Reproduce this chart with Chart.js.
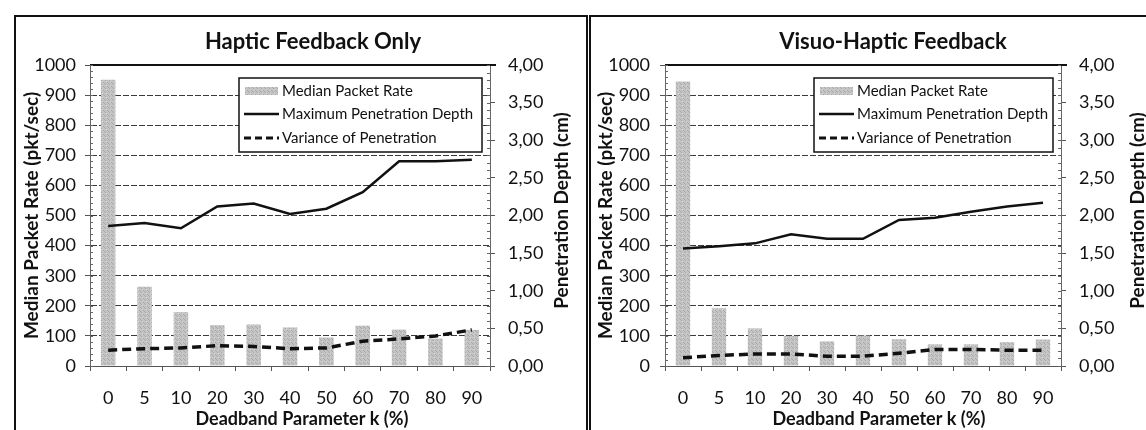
<!DOCTYPE html>
<html>
<head>
<meta charset="utf-8">
<script src="https://cdn.jsdelivr.net/npm/chart.js@4.4.0/dist/chart.umd.min.js"></script>
<style>
    html, body { margin: 0; padding: 0; background: #fff; width: 1146px; height: 430px; overflow: hidden; }
    .panel { position: absolute; top: 15px; height: 430px; border: 2px solid #111; border-bottom: none; box-sizing: border-box; }
    #p1 { left: 14px; width: 574px; }
    #p2 { left: 589px; width: 600px; border-right: none; }
    canvas { position: absolute; top: 0; }
    #c1 { left: 0; }
    #c2 { left: 588px; }
</style>
</head>
<body>
<div class="panel" id="p1"></div>
<div class="panel" id="p2"></div>
<canvas id="c1" width="588" height="430"></canvas>
<canvas id="c2" width="562" height="430"></canvas>
<script>
// deadband parameter k (%)
var categories = ['0', '5', '10', '20', '30', '40', '50', '60', '70', '80', '90'];

// Haptic Feedback Only
var hapticRate = [951, 263, 179, 136, 138, 128, 95, 134, 121, 91, 120];
var hapticDepth = [1.86, 1.90, 1.83, 2.12, 2.16, 2.02, 2.09, 2.31, 2.72, 2.72, 2.74];
var hapticVariance = [0.21, 0.23, 0.24, 0.27, 0.26, 0.23, 0.24, 0.33, 0.36, 0.40, 0.48];

// Visuo-Haptic Feedback
var visuoRate = [945, 192, 125, 100, 82, 101, 89, 72, 72, 79, 88];
var visuoDepth = [1.56, 1.59, 1.63, 1.75, 1.69, 1.69, 1.94, 1.97, 2.05, 2.12, 2.17];
var visuoVariance = [0.11, 0.14, 0.16, 0.16, 0.13, 0.13, 0.17, 0.22, 0.22, 0.21, 0.21];

var rateMax = 1000, rateStep = 100;
var depthMax = 4, depthStep = 0.5;

var legendLabels = ['Median Packet Rate', 'Maximum Penetration Depth', 'Variance of Penetration'];

var FONT = 'Lato, "Open Sans", sans-serif';

// speckled grey like the scanned bars
function barPattern() {
    var c = document.createElement('canvas');
    c.width = 4; c.height = 4;
    var g = c.getContext('2d');
    g.fillStyle = '#c4c4c4';
    g.fillRect(0, 0, 4, 4);
    g.fillStyle = '#a9a9a9';
    g.fillRect(1, 0, 1, 1);
    g.fillRect(3, 2, 1, 1);
    g.fillRect(0, 3, 1, 1);
    g.fillStyle = '#d6d6d6';
    g.fillRect(2, 1, 1, 1);
    return g.createPattern(c, 'repeat');
}

var decorPlugin = {
    id: 'decor',
    afterDraw: function (chart, args, opts) {
        var ctx = chart.ctx;
        var a = chart.chartArea;
        var y = chart.scales.y, y1 = chart.scales.y1;
        ctx.save();

        // solid top frame line
        ctx.strokeStyle = '#111';
        ctx.lineWidth = 2;
        ctx.beginPath();
        ctx.moveTo(a.left, a.top);
        ctx.lineTo(a.right + 6, a.top);
        ctx.stroke();

        // minor ticks on both value axes
        ctx.strokeStyle = '#666';
        ctx.lineWidth = 1;
        ctx.beginPath();
        for (var v = 0; v <= rateMax; v += 20) {
            var py = Math.round(y.getPixelForValue(v)) + 0.5;
            ctx.moveTo(a.left, py);
            ctx.lineTo(a.left + 3, py);
        }
        for (var d = 0; d <= depthMax + 0.001; d += 0.1) {
            var qy = Math.round(y1.getPixelForValue(d)) + 0.5;
            ctx.moveTo(a.right, qy);
            ctx.lineTo(a.right - 3, qy);
        }
        ctx.stroke();

        // title
        ctx.fillStyle = '#111';
        ctx.font = 'bold 22px ' + FONT;
        ctx.textAlign = 'center';
        ctx.textBaseline = 'middle';
        ctx.fillText(opts.title, opts.titleX, 42);

        // x axis title (sits a bit right of the plot centre in the original)
        ctx.font = 'bold 18px ' + FONT;
        ctx.fillText('Deadband Parameter k (%)', opts.xTitleX, 419);

        // right axis title, reads bottom to top like the left one
        ctx.save();
        ctx.translate(opts.y1TitleX, (a.top + a.bottom) / 2 - 5);
        ctx.rotate(-Math.PI / 2);
        ctx.font = 'bold 19px ' + FONT;
        ctx.fillText('Penetration Depth (cm)', 0, 0);
        ctx.restore();

        // legend box
        var lx = opts.legendX, ly = 78, lw = opts.legendW, lh = 74;
        ctx.fillStyle = '#fff';
        ctx.fillRect(lx, ly, lw, lh);
        ctx.strokeStyle = '#111';
        ctx.lineWidth = 1.5;
        ctx.strokeRect(lx, ly, lw, lh);

        var rows = [ly + 13, ly + 36, ly + 60];
        var sx = lx + 5, sw = 35;
        ctx.fillStyle = chart.data.datasets[2].backgroundColor;
        ctx.fillRect(sx + 1, rows[0] - 4, sw - 2, 8);
        ctx.strokeStyle = '#111';
        ctx.lineWidth = 2.5;
        ctx.beginPath();
        ctx.moveTo(sx, rows[1]);
        ctx.lineTo(sx + sw, rows[1]);
        ctx.stroke();
        ctx.lineWidth = 3;
        ctx.setLineDash([7, 4]);
        ctx.beginPath();
        ctx.moveTo(sx, rows[2]);
        ctx.lineTo(sx + sw, rows[2]);
        ctx.stroke();
        ctx.setLineDash([]);

        ctx.fillStyle = '#111';
        ctx.font = '15px ' + FONT;
        ctx.textAlign = 'left';
        for (var i = 0; i < legendLabels.length; i++) {
            ctx.fillText(legendLabels[i], sx + sw + 3, rows[i]);
        }
        ctx.restore();
    }
};

function makeChart(id, rate, depth, variance, lay) {
    var ctx = document.getElementById(id).getContext('2d');
    return new Chart(ctx, {
        type: 'bar',
        data: {
            labels: categories,
            datasets: [
                {
                    type: 'line',
                    label: legendLabels[1],
                    data: depth,
                    yAxisID: 'y1',
                    borderColor: '#111',
                    borderWidth: 2.5,
                    pointRadius: 0,
                    tension: 0,
                    order: 1
                },
                {
                    type: 'line',
                    label: legendLabels[2],
                    data: variance,
                    yAxisID: 'y1',
                    borderColor: '#111',
                    borderWidth: 3.5,
                    borderDash: [9, 5],
                    pointRadius: 0,
                    tension: 0,
                    order: 2
                },
                {
                    label: legendLabels[0],
                    data: rate,
                    yAxisID: 'y',
                    backgroundColor: barPattern(),
                    borderWidth: 0,
                    categoryPercentage: 1,
                    barPercentage: 0.4,
                    order: 3
                }
            ]
        },
        options: {
            responsive: false,
            animation: false,
            devicePixelRatio: 1,
            layout: { padding: { top: 65, left: 0, right: 0, bottom: 0 } },
            plugins: {
                legend: { display: false },
                tooltip: { enabled: false },
                decor: lay.decor
            },
            scales: {
                x: {
                    offset: true,
                    grid: { offset: true, drawOnChartArea: false, drawTicks: true, tickLength: 5, color: '#555' },
                    border: { display: true, color: '#555', width: 1 },
                    ticks: { color: '#111', font: { family: FONT, size: 18 }, padding: 16, maxRotation: 0, autoSkip: false },
                    afterFit: function (s) { s.height = 64; }
                },
                y: {
                    position: 'left',
                    min: 0,
                    max: rateMax,
                    ticks: {
                        stepSize: rateStep,
                        color: '#111',
                        font: { family: FONT, size: 18 },
                        padding: lay.yPad,
                        callback: function (v) { return String(v); }
                    },
                    grid: { color: '#3a3a3a', lineWidth: 1, tickLength: 5, tickColor: '#555' },
                    border: { display: true, color: '#666', width: 1, dash: [6, 2] },
                    title: {
                        display: true,
                        text: 'Median Packet Rate (pkt/sec)',
                        color: '#111',
                        font: { family: FONT, size: 19, weight: 'bold' },
                        padding: { top: lay.yTitlePad, bottom: 0 }
                    },
                    afterFit: function (s) { s.width = lay.yWidth; }
                },
                y1: {
                    position: 'right',
                    min: 0,
                    max: depthMax,
                    ticks: {
                        stepSize: depthStep,
                        color: '#111',
                        font: { family: FONT, size: 18 },
                        padding: 13,
                        callback: function (v) { return v.toFixed(2).replace('.', ','); }
                    },
                    grid: { drawOnChartArea: false, drawTicks: true, tickLength: 5, color: '#555' },
                    border: { display: true, color: '#666', width: 1 },
                    afterFit: function (s) { s.width = lay.y1Width; }
                }
            }
        },
        plugins: [decorPlugin]
    });
}

makeChart('c1', hapticRate, hapticDepth, hapticVariance, {
    yWidth: 90, yPad: 9, yTitlePad: 20, y1Width: 98,
    decor: { title: 'Haptic Feedback Only', titleX: 313, xTitleX: 302, legendX: 239, legendW: 243, y1TitleX: 562 }
});

makeChart('c2', visuoRate, visuoDepth, visuoVariance, {
    yWidth: 77, yPad: 10, yTitlePad: 6, y1Width: 89,
    decor: { title: 'Visuo-Haptic Feedback', titleX: 305, xTitleX: 291, legendX: 226, legendW: 239, y1TitleX: 550 }
});
</script>
</body>
</html>
